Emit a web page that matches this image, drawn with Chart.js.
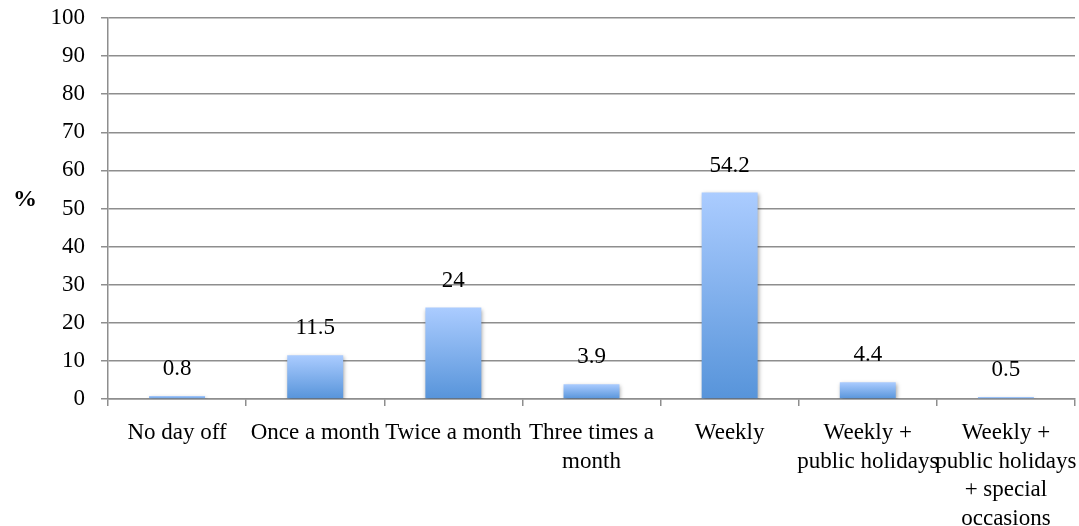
<!DOCTYPE html>
<html>
<head>
<meta charset="utf-8">
<script src="https://cdn.jsdelivr.net/npm/chart.js@4"></script>
<style>
  html, body { margin: 0; padding: 0; background: #fff; }
  #wrap { width: 1079px; height: 526px; }
</style>
</head>
<body>
<div id="wrap"><canvas id="chart" width="1079" height="526"></canvas></div>
<script>
"use strict";

const categories = [
  'No day off',
  'Once a month',
  'Twice a month',
  ['Three times a', 'month'],
  'Weekly',
  ['Weekly +', 'public holidays'],
  ['Weekly +', 'public holidays', '+ special', 'occasions']
];
const values = [0.8, 11.5, 24, 3.9, 54.2, 4.4, 0.5];
const valueLabels = ['0.8', '11.5', '24', '3.9', '54.2', '4.4', '0.5'];
const yTitle = '%';

const FONT = "'Liberation Serif', 'DejaVu Serif', serif";
const GRID = '#8e8e8e';

// gradient per bar, from its top down to zero
function barFill(ctx) {
  const chart = ctx.chart;
  if (!chart.chartArea || ctx.dataIndex === undefined) return '#7fb0ee';
  const y = chart.scales.y;
  const top = y.getPixelForValue(values[ctx.dataIndex]);
  const base = y.getPixelForValue(0);
  const g = chart.ctx.createLinearGradient(0, top, 0, base);
  g.addColorStop(0, '#abccff');
  g.addColorStop(1, '#5794da');
  return g;
}

const barShadow = {
  id: 'barShadow',
  beforeDatasetsDraw(chart) {
    const c = chart.ctx;
    c.save();
    c.shadowColor = 'rgba(0,0,0,0.35)';
    c.shadowBlur = 4;
    c.shadowOffsetX = 1;
    c.shadowOffsetY = 2;
  },
  afterDatasetsDraw(chart) {
    chart.ctx.restore();
  }
};

const valueText = {
  id: 'valueText',
  afterDatasetsDraw(chart) {
    const c = chart.ctx;
    const meta = chart.getDatasetMeta(0);
    c.save();
    c.font = '23px ' + FONT;
    c.fillStyle = '#000';
    c.textAlign = 'center';
    c.textBaseline = 'middle';
    meta.data.forEach(function(bar, i) {
      c.fillText(valueLabels[i], bar.x, bar.y - 27);
    });
    c.restore();
  },
  afterDraw(chart) {
    const c = chart.ctx;
    c.save();
    c.font = 'bold 24px ' + FONT;
    c.fillStyle = '#000';
    c.textAlign = 'center';
    c.textBaseline = 'middle';
    c.fillText(yTitle, 25, 200);
    c.restore();
  }
};

new Chart('chart', {
  type: 'bar',
  data: {
    labels: categories,
    datasets: [{
      data: values,
      backgroundColor: barFill,
      borderWidth: 0,
      barPercentage: 0.405,
      categoryPercentage: 1
    }]
  },
  options: {
    responsive: false,
    animation: false,
    layout: { padding: { left: 0, right: 4, top: 18, bottom: 0 } },
    plugins: { legend: { display: false }, tooltip: { enabled: false } },
    scales: {
      x: {
        offset: true,
        grid: {
          display: true,
          offset: true,
          drawOnChartArea: false,
          color: GRID,
          lineWidth: 1.5,
          tickLength: 7,
          tickColor: GRID
        },
        border: { color: GRID, width: 1.5 },
        ticks: {
          color: '#000',
          padding: 13,
          maxRotation: 0,
          autoSkip: false,
          font: { family: FONT, size: 23, lineHeight: 1.24 }
        },
        afterFit(scale) {
          scale.height = 127;
          scale.paddingLeft = 0;
          scale.paddingRight = 0;
        }
      },
      y: {
        min: 0,
        max: 100,
        ticks: {
          stepSize: 10,
          color: '#000',
          padding: 16,
          font: { family: FONT, size: 23 }
        },
        grid: { color: GRID, lineWidth: 1.5, tickLength: 7, tickColor: GRID },
        border: { color: GRID, width: 1.5 },
        afterFit(scale) {
          scale.width = 108;
          scale.paddingTop = 0;
          scale.paddingBottom = 0;
        }
      }
    }
  },
  plugins: [barShadow, valueText]
});
</script>
</body>
</html>
